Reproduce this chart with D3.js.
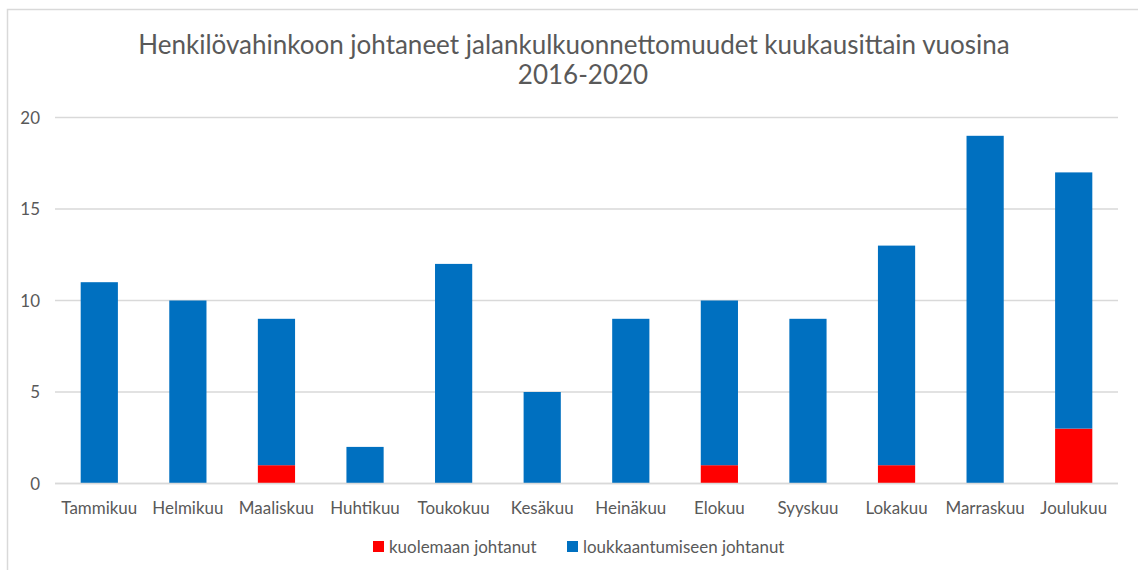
<!DOCTYPE html>
<html><head><meta charset="utf-8">
<script src="https://cdn.jsdelivr.net/npm/d3@7"></script>
<style>body{margin:0;background:#fff}svg{display:block}text{font-family:Lato,"Open Sans",sans-serif;fill:#595959}</style>
</head><body><svg id="c" width="1138" height="570"></svg>
<script>
const categories = ["Tammikuu","Helmikuu","Maaliskuu","Huhtikuu","Toukokuu","Kesäkuu","Heinäkuu","Elokuu","Syyskuu","Lokakuu","Marraskuu","Joulukuu"];
const kuolemaan = [0,0,1,0,0,0,0,1,0,1,0,3];
const loukkaantumiseen = [11,10,8,2,12,5,9,9,9,12,19,14];
const seriesNames = ["kuolemaan johtanut","loukkaantumiseen johtanut"];
const yTicks = [0,5,10,15,20];
const titleLines = ["Henkilövahinkoon johtaneet jalankulkuonnettomuudet kuukausittain vuosina","2016-2020"];

const svg = d3.select("#c");
const colors = ["#FF0000","#0070C0"];
// chart border (top and left visible)
svg.append("rect").attr("x",7.5).attr("y",9.5).attr("width",1160).attr("height",600)
  .attr("fill","none").attr("stroke","#d9d9d9").attr("stroke-width",1.5);

function fit(sel, target){
  const w = sel.node().getComputedTextLength();
  const fs = parseFloat(sel.attr("font-size"));
  sel.attr("font-size", fs*target/w);
}

const x = d3.scaleBand().domain(categories).range([55,1118]).paddingInner(0.58).paddingOuter(0.29);
const y = d3.scaleLinear().domain([0,20]).range([483.5,117.5]);

// grid
svg.append("g").selectAll("line").data(yTicks).join("line")
  .attr("x1",55).attr("x2",1118).attr("y1",d=>y(d)).attr("y2",d=>y(d))
  .attr("stroke","#d9d9d9").attr("stroke-width",1.3);

// y labels
const yl = svg.append("g").selectAll("text").data(yTicks).join("text")
  .attr("x",40).attr("y",d=>y(d)+6).attr("text-anchor","end").attr("font-size",15).text(d=>d);

// stacked bars
const rows = categories.map((c,i)=>({cat:c, a:kuolemaan[i], b:loukkaantumiseen[i]}));
const stack = d3.stack().keys(["a","b"])(rows);
svg.append("g").selectAll("g").data(stack).join("g").attr("fill",(d,i)=>colors[i])
  .selectAll("rect").data(d=>d).join("rect")
  .attr("x",d=>x(d.data.cat)).attr("width",x.bandwidth())
  .attr("y",d=>y(d[1])).attr("height",d=>y(d[0])-y(d[1]));

// zero line on top
svg.append("line").attr("x1",55).attr("x2",1118).attr("y1",y(0)).attr("y2",y(0))
  .attr("stroke","#d9d9d9").attr("stroke-width",1.5);

// x labels
const xl = svg.append("g").selectAll("text").data(categories).join("text")
  .attr("x",d=>x(d)+x.bandwidth()/2).attr("y",514).attr("text-anchor","middle").attr("font-size",15).text(d=>d);
const t0 = xl.filter((d,i)=>i===0);
const w0 = t0.node().getComputedTextLength();
xl.attr("font-size",15*76/w0);
yl.attr("font-size",15*76/w0);

// title
const tt = svg.append("g");
const l1 = tt.append("text").attr("x",574).attr("y",54).attr("text-anchor","middle").attr("font-size",22).text(titleLines[0]);
fit(l1,872);
tt.append("text").attr("x",583).attr("y",84).attr("text-anchor","middle").attr("font-size",l1.attr("font-size")).text(titleLines[1]);

// legend
const legX = [373,567];
const lg = svg.append("g");
seriesNames.forEach((n,i)=>{
  lg.append("rect").attr("x",legX[i]).attr("y",541).attr("width",11).attr("height",11).attr("fill",colors[i]);
  lg.append("text").attr("x",legX[i]+16).attr("y",552.5).attr("font-size",xl.attr("font-size")).text(n);
});
</script></body></html>
